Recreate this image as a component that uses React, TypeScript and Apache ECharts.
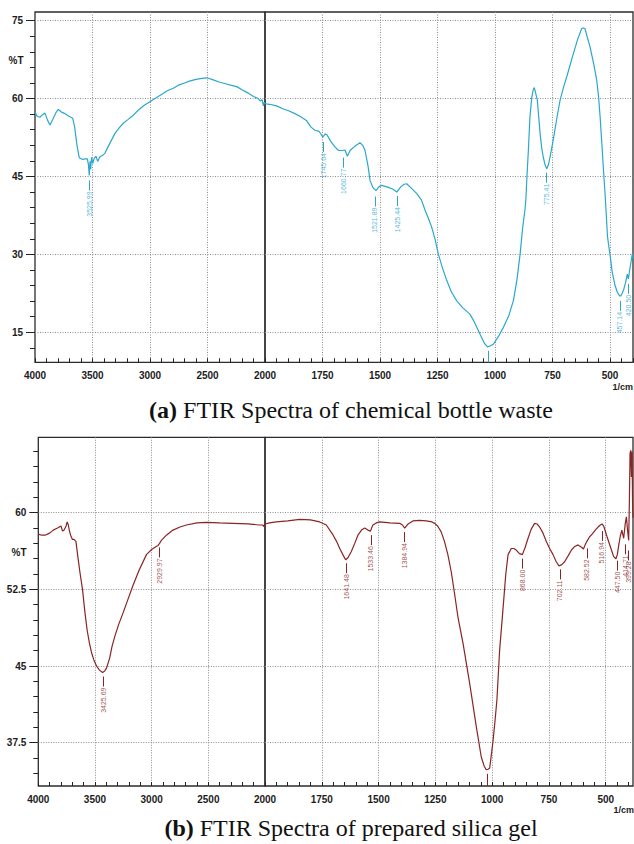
import React, { useEffect, useRef } from 'react';
import * as echarts from 'echarts';

// ---- Data (wavenumber in 1/cm, transmittance in %T) ----
const spectrumA: [number, number][] = [
  [4000, 57.4], [3985, 56.7], [3970, 56.5], [3957, 56.4], [3935, 56.9], [3913, 57.2], [3890, 55.8], [3870, 54.9],
  [3845, 56.0], [3815, 57.4], [3797, 57.9], [3770, 57.4], [3739, 57.1], [3705, 56.6], [3672, 56.2], [3655, 54.5],
  [3635, 51.0], [3615, 48.6], [3590, 48.3], [3560, 48.4], [3545, 48.4], [3536, 47.4], [3528, 45.2], [3522, 47.9],
  [3516, 46.4], [3508, 48.7], [3498, 47.5], [3485, 48.5], [3470, 48.9], [3455, 47.9], [3442, 48.5], [3435, 48.8],
  [3410, 49.1], [3391, 49.5], [3365, 50.7], [3335, 52.0], [3304, 53.3], [3270, 54.3], [3230, 55.3], [3190, 56.0],
  [3145, 56.8], [3100, 57.8], [3050, 58.7], [3000, 59.4], [2950, 60.1], [2900, 60.8], [2850, 61.5], [2797, 62.0],
  [2750, 62.6], [2700, 63.0], [2650, 63.4], [2600, 63.7], [2550, 63.9], [2505, 64.0], [2450, 63.6], [2400, 63.2],
  [2350, 62.9], [2300, 62.6], [2246, 62.3], [2200, 61.7], [2150, 61.1], [2100, 60.4], [2060, 60.0], [2040, 59.5],
  [2025, 59.8], [2014, 58.6], [2007, 59.3], [2000, 59.0],
  [1980, 58.9], [1950, 58.6], [1920, 58.0], [1900, 57.7], [1870, 57.1], [1848, 56.6], [1820, 55.8], [1800, 54.5],
  [1783, 53.9], [1765, 53.7], [1749, 52.6], [1738, 53.2], [1730, 53.0], [1715, 51.8], [1696, 50.7], [1680, 50.0],
  [1665, 50.0], [1652, 50.1], [1642, 48.9], [1630, 50.0], [1610, 50.8], [1587, 51.5], [1575, 51.0], [1565, 50.0],
  [1552, 47.0], [1543, 44.2], [1530, 42.8], [1517, 42.3], [1505, 43.0], [1493, 43.3], [1470, 43.0], [1445, 42.6],
  [1427, 42.0], [1410, 43.0], [1395, 43.5], [1384, 43.6], [1365, 42.8], [1340, 41.7], [1320, 40.5], [1304, 38.5],
  [1290, 37.0], [1275, 35.2], [1260, 32.8], [1246, 30.0], [1230, 27.6], [1210, 25.0], [1190, 22.8], [1167, 21.1],
  [1140, 19.7], [1109, 18.5], [1090, 17.0], [1065, 14.6], [1045, 12.8], [1032, 12.2], [1020, 12.4], [1007, 12.7],
  [985, 14.2], [964, 15.9], [940, 18.2], [920, 21.1], [905, 25.0], [891, 30.0], [880, 35.0], [870, 38.5],
  [866, 40.4], [862, 44.2], [855, 50.0], [848, 56.5], [840, 60.3], [833, 61.8], [829, 62.1], [824, 61.2],
  [816, 59.7], [810, 56.5], [804, 53.3], [797, 50.5], [790, 48.7], [782, 47.2], [775, 46.5], [768, 47.2],
  [761, 48.7], [754, 50.3], [747, 52.0], [730, 56.5], [717, 59.7], [700, 62.5], [688, 64.2], [670, 67.0],
  [659, 68.7], [640, 71.5], [623, 73.5], [615, 73.6], [609, 73.5], [600, 72.0], [587, 70.0], [570, 66.5],
  [558, 63.6], [550, 60.5], [543, 56.5], [535, 51.0], [528, 46.0], [522, 42.0], [516, 37.5], [511, 33.5],
  [505, 31.5], [500, 30.0], [490, 26.5], [478, 24.0], [468, 22.7], [458, 22.0], [453, 22.0], [447, 22.5],
  [440, 23.3], [432, 24.6], [425, 26.2], [420, 25.3], [415, 26.8], [410, 28.2], [403, 30.1], [400, 29.2],
];

const spectrumB: [number, number][] = [
  [4000, 57.9], [3970, 57.8], [3941, 57.8], [3900, 58.0], [3868, 58.3], [3830, 58.5], [3800, 58.7], [3786, 58.2],
  [3772, 58.3], [3755, 58.7], [3745, 59.1], [3735, 58.8], [3725, 58.2], [3715, 57.8], [3700, 57.4], [3685, 57.4],
  [3668, 57.2], [3650, 55.6], [3633, 54.2], [3610, 52.5], [3589, 50.3], [3569, 48.5], [3550, 47.3], [3530, 46.3],
  [3510, 45.6], [3486, 45.0], [3460, 44.6], [3433, 44.36], [3415, 44.5], [3398, 44.8], [3370, 45.8], [3350, 46.9],
  [3325, 47.9], [3290, 49.1], [3252, 50.2], [3210, 51.5], [3164, 52.9], [3110, 54.4], [3046, 55.9], [3000, 56.4],
  [2960, 56.7], [2944, 56.8], [2930, 57.0], [2914, 57.3], [2870, 57.8], [2812, 58.3], [2750, 58.6], [2694, 58.8],
  [2600, 59.0], [2518, 59.06], [2400, 59.0], [2284, 58.96], [2150, 58.9], [2050, 58.8], [2020, 58.8], [2008, 58.65],
  [2000, 58.9],
  [1980, 59.0], [1950, 59.1], [1900, 59.2], [1847, 59.35], [1800, 59.3], [1759, 59.1], [1730, 58.8], [1700, 57.8],
  [1685, 57.2], [1671, 56.5], [1655, 55.8], [1645, 55.4], [1635, 55.6], [1620, 56.2], [1605, 57.0], [1591, 57.8],
  [1575, 58.3], [1561, 58.5], [1547, 58.3], [1536, 58.2], [1525, 58.8], [1510, 59.0], [1495, 59.1], [1450, 59.0],
  [1407, 58.96], [1395, 58.8], [1385, 58.5], [1370, 58.9], [1349, 59.2], [1320, 59.25], [1290, 59.2], [1265, 59.1],
  [1253, 58.96], [1240, 58.7], [1224, 58.1], [1210, 57.2], [1195, 55.9], [1180, 54.2], [1165, 52.0], [1150, 49.7],
  [1128, 47.2], [1099, 43.3], [1070, 39.1], [1048, 36.1], [1035, 35.2], [1026, 34.85], [1018, 34.9], [1011, 35.0],
  [997, 37.5], [988, 39.5], [979, 41.7], [967, 46.6], [958, 49.0], [949, 51.5], [940, 54.0], [930, 55.9],
  [916, 56.5], [905, 56.5], [894, 56.35], [880, 56.0], [867, 55.9], [855, 56.6], [842, 57.5], [828, 58.4],
  [813, 58.96], [802, 58.9], [791, 58.6], [776, 58.0], [762, 57.2], [747, 56.5], [732, 55.9], [718, 55.2],
  [706, 54.8], [695, 54.9], [681, 55.2], [665, 55.8], [651, 56.35], [636, 56.7], [622, 56.85], [605, 56.6],
  [598, 56.45], [590, 56.9], [583, 57.2], [571, 57.65], [560, 57.9], [546, 58.3], [534, 58.6], [524, 58.8],
  [516, 58.9], [509, 58.7], [495, 57.7], [480, 56.7], [465, 55.7], [455, 55.5], [449, 55.9], [443, 56.8],
  [436, 57.7], [429, 58.3], [421, 57.5], [414, 58.96], [409, 59.6], [404, 58.3], [399, 57.3], [396, 61.0],
  [393, 65.8], [390, 66.1], [387, 63.5], [384, 66.0], [382, 61.0], [380, 59.5],
];

// labelled peaks [wavenumber, %T at the curve]
const peaksA: [number, number][] = [
  [3525.99, 45.2], [1745.64, 52.6], [1660.77, 49.6], [1521.89, 42.1], [1425.44, 42.2],
  [775.41, 46.7], [457.14, 22.0], [420.50, 25.3],
];
const dipsA: [number, number][] = [[1030, 12.2]];
const peaksB: [number, number][] = [
  [3425.69, 44.36], [2929.97, 57.0], [1641.48, 55.45], [1533.46, 58.2], [1384.94, 58.5],
  [868.0, 55.9], [702.11, 54.85], [582.52, 56.9], [516.94, 58.6], [447.5, 55.7], [414.71, 57.3], [399.28, 56.7],
];
const dipsB: [number, number][] = [[1022, 34.85]];

const xMajorsLeft = [4000, 3500, 3000, 2500, 2000];
const xMajorsRight = [1750, 1500, 1250, 1000, 750, 500];
const yMajorsA = [15, 30, 45, 60, 75];
const yMajorsB = [37.5, 45, 52.5, 60];

const captionA = { tag: '(a)', text: 'FTIR Spectra of chemical bottle waste' };
const captionB = { tag: '(b)', text: 'FTIR Spectra of prepared silica gel' };
const unitLabel = '1/cm';
const yName = '%T';

const colorA = '#2aa8cc';
const colorB = '#8a2424';

// ---- layout ----
interface Panel {
  top: number; height: number; yMin: number; yMax: number;
  leftL: number; widthL: number; leftR: number; widthR: number; xMinR: number;
  yMinorStep: number; color: string; gap: number; len: number;
  spectrum: [number, number][]; peaks: [number, number][]; dips: [number, number][]; yMajors: number[];
}

const panels: Panel[] = [
  {
    top: 12, height: 350.3, yMin: 9.22, yMax: 76.67, leftL: 35, widthL: 230, leftR: 265, widthR: 368, xMinR: 400,
    yMinorStep: 3, color: colorA, gap: 5, len: 10, spectrum: spectrumA, peaks: peaksA, dips: dipsA, yMajors: yMajorsA,
  },
  {
    top: 437.3, height: 348.7, yMin: 33.26, yMax: 67.38, leftL: 38.3, widthL: 226.7, leftR: 265, widthR: 368, xMinR: 380,
    yMinorStep: 1.5, color: colorB, gap: 4, len: 10, spectrum: spectrumB, peaks: peaksB, dips: dipsB, yMajors: yMajorsB,
  },
];

function steps(from: number, to: number, step: number): number[] {
  const out: number[] = [];
  const n = Math.round((to - from) / step);
  for (let i = 0; i <= n; i++) out.push(Math.round((from + i * step) * 1000) / 1000);
  return out;
}

const tickLine = { color: '#222', width: 1 };
const gridLine = { type: [1, 1.5] as any, color: '#8c8c8c', width: 1 };
const tickFont = {
  fontFamily: 'Liberation Sans', fontSize: 10, fontWeight: 'bold' as const, color: '#1c1c1c',
  formatter: (v: number) => String(v),
};

function buildOption() {
  const grid: any[] = [];
  const xAxis: any[] = [];
  const yAxis: any[] = [];
  const series: any[] = [];

  panels.forEach((p) => {
    const ppu = p.height / (p.yMax - p.yMin);
    const gL = grid.length;
    grid.push({ left: p.leftL, top: p.top, width: p.widthL, height: p.height, show: true, borderColor: '#2b2b2b', borderWidth: 1.3, containLabel: false, outerBoundsMode: 'none' });
    const gR = grid.length;
    grid.push({ left: p.leftR, top: p.top, width: p.widthR, height: p.height, show: true, borderColor: '#2b2b2b', borderWidth: 1.3, containLabel: false, outerBoundsMode: 'none' });

    // X axes, left part (4000-2000)
    const xL = xAxis.length;
    xAxis.push({
      type: 'value', gridIndex: gL, min: 2000, max: 4000, inverse: true, position: 'bottom',
      axisLine: { show: false },
      axisTick: { show: true, inside: true, length: 4, customValues: steps(2000, 4000, 100), lineStyle: tickLine },
      axisLabel: { show: true, customValues: xMajorsLeft, margin: 8, ...tickFont },
      splitLine: { show: false },
    });
    xAxis.push({
      type: 'value', gridIndex: gL, min: 2000, max: 4000, inverse: true, position: 'bottom',
      axisLine: { show: false }, axisLabel: { show: false },
      axisTick: { show: false, customValues: xMajorsLeft.filter((v) => v > 2000 && v < 4000) },
      splitLine: { show: true, lineStyle: gridLine },
    });
    // X axes, right part (2000-min)
    const xR = xAxis.length;
    xAxis.push({
      type: 'value', gridIndex: gR, min: p.xMinR, max: 2000, inverse: true, position: 'bottom',
      axisLine: { show: false },
      axisTick: { show: true, inside: true, length: 4, customValues: steps(400, 1950, 50).filter((v) => v >= p.xMinR), lineStyle: tickLine },
      axisLabel: { show: true, customValues: xMajorsRight, margin: 8, ...tickFont },
      splitLine: { show: false },
    });
    xAxis.push({
      type: 'value', gridIndex: gR, min: p.xMinR, max: 2000, inverse: true, position: 'bottom',
      axisLine: { show: false }, axisLabel: { show: false },
      axisTick: { show: false, customValues: xMajorsRight },
      splitLine: { show: true, lineStyle: gridLine },
    });

    // Y axes, left grid
    const minors = steps(Math.ceil(p.yMin / p.yMinorStep) * p.yMinorStep, Math.floor(p.yMax / p.yMinorStep) * p.yMinorStep, p.yMinorStep)
      .filter((v) => !p.yMajors.includes(v));
    const yL = yAxis.length;
    yAxis.push({
      type: 'value', gridIndex: gL, min: p.yMin, max: p.yMax, position: 'left',
      axisLine: { show: false }, axisLabel: { show: false },
      axisTick: { show: true, length: 5, customValues: minors, lineStyle: tickLine },
      splitLine: { show: false },
    });
    yAxis.push({
      type: 'value', gridIndex: gL, min: p.yMin, max: p.yMax, position: 'left',
      axisLine: { show: false },
      axisTick: { show: true, length: 9, customValues: p.yMajors, lineStyle: tickLine },
      axisLabel: { show: true, customValues: p.yMajors, margin: 12, ...tickFont },
      splitLine: { show: true, lineStyle: gridLine },
    });
    // Y axis, right grid
    const yR = yAxis.length;
    yAxis.push({
      type: 'value', gridIndex: gR, min: p.yMin, max: p.yMax, position: 'left',
      axisLine: { show: false }, axisLabel: { show: false },
      axisTick: { show: false, customValues: p.yMajors },
      splitLine: { show: true, lineStyle: gridLine },
    });

    const parts = [
      { xi: xL, yi: yL, keep: (w: number) => w >= 2000 },
      { xi: xR, yi: yR, keep: (w: number) => w <= 2000 },
    ];
    parts.forEach((part, k) => {
      series.push({
        type: 'line', xAxisIndex: part.xi, yAxisIndex: part.yi, showSymbol: false, symbol: 'none', silent: true,
        lineStyle: { color: p.color, width: 1.2 }, data: p.spectrum.filter(([w]) => part.keep(w)), z: 2,
      });
      const pk = p.peaks.filter(([w]) => (k === 0 ? w >= 2000 : w < 2000));
      const dp = p.dips.filter(([w]) => (k === 0 ? w >= 2000 : w < 2000));
      series.push({
        type: 'scatter', xAxisIndex: part.xi, yAxisIndex: part.yi, symbolSize: 0, silent: true, z: 3,
        data: pk.map(([w, t]) => ({ value: [w, t], name: w.toFixed(2) })),
        label: {
          show: true, formatter: '{b}', position: 'bottom', distance: p.gap + p.len + 1, rotate: 90,
          align: 'right', verticalAlign: 'middle', fontSize: 7, fontFamily: 'Liberation Sans', color: p.color,
        },
        markLine: {
          silent: true, animation: false, symbol: ['none', 'none'], label: { show: false },
          lineStyle: { color: p.color, width: 1, type: 'solid' },
          data: [
            ...pk.map(([w, t]) => [{ coord: [w, t - p.gap / ppu] }, { coord: [w, t - (p.gap + p.len) / ppu] }]),
            ...dp.map(([w, t]) => [{ coord: [w, t - 4 / ppu] }, { coord: [w, p.yMin] }]),
          ],
        },
      });
    });
  });

  const caption = (c: { tag: string; text: string }, x: number, y: number) => ({
    type: 'text', x, y, silent: true,
    style: {
      text: `{b|${c.tag}} ${c.text}`, fontFamily: 'Liberation Serif', fontSize: 24, fill: '#111',
      align: 'center', verticalAlign: 'middle',
      rich: { b: { fontFamily: 'Liberation Serif', fontSize: 24, fontWeight: 'bold', fill: '#111' } },
    },
  });
  const small = (text: string, x: number, y: number, align: string, size: number) => ({
    type: 'text', x, y, silent: true,
    style: { text, fontFamily: 'Liberation Sans', fontSize: size, fontWeight: 'bold', fill: '#1c1c1c', align, verticalAlign: 'middle' },
  });

  return {
    animation: false,
    backgroundColor: '#ffffff',
    grid, xAxis, yAxis, series,
    graphic: [
      caption(captionA, 351, 410),
      caption(captionB, 351, 828),
      small(yName, 16, 60, 'center', 10),
      small(yName, 19, 552, 'center', 10),
      small(unitLabel, 633, 387, 'right', 9),
      small(unitLabel, 634, 810, 'right', 9),
    ],
  };
}

export default function App() {
  const ref = useRef<HTMLDivElement>(null);
  useEffect(() => {
    document.body.style.margin = '0';
    if (!ref.current) return;
    const chart = echarts.init(ref.current, undefined, { renderer: 'svg' });
    chart.setOption(buildOption() as any);
    return () => chart.dispose();
  }, []);
  return <div ref={ref} style={{ width: 634, height: 844 }} />;
}
